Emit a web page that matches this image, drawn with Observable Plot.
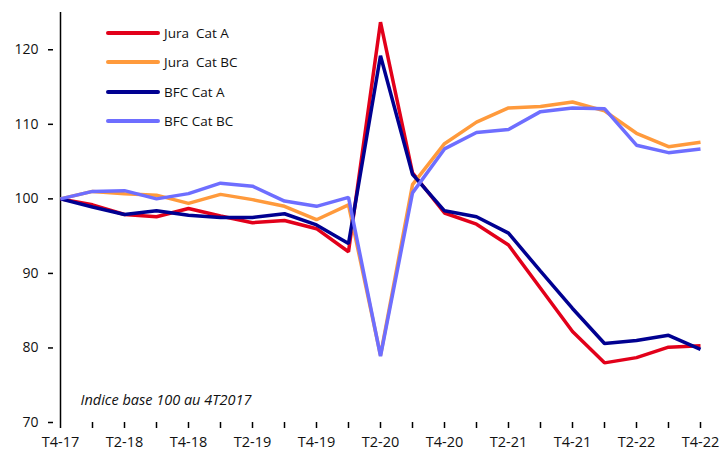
<!DOCTYPE html>
<html>
<head>
<meta charset="utf-8">
<script src="https://cdn.jsdelivr.net/npm/d3@7"></script>
<script src="https://cdn.jsdelivr.net/npm/@observablehq/plot@0.6"></script>
<style>
  html, body { margin: 0; padding: 0; background: #fff; }
  #wrap { position: relative; width: 728px; height: 454px; font-family: "Open Sans", sans-serif; }
  #legend { position: absolute; left: 106px; top: 18px; font-size: 13.5px; color: #111; }
  #legend .item { display: flex; align-items: center; height: 29.5px; }
  #legend .sw { width: 54px; height: 4px; border-radius: 2px; margin-right: 4px; }
</style>
</head>
<body>
<div id="wrap"><div id="legend"></div></div>
<script>
const quarters = ["T4-17","T1-18","T2-18","T3-18","T4-18","T1-19","T2-19","T3-19","T4-19","T1-20","T2-20","T3-20","T4-20","T1-21","T2-21","T3-21","T4-21","T1-22","T2-22","T3-22","T4-22"];
const juraA  = [100, 99.2, 97.9, 97.6, 98.7, 97.7, 96.8, 97.1, 96.0, 92.9, 123.7, 103.5, 98.1, 96.6, 93.8, 88.0, 82.2, 78.0, 78.7, 80.1, 80.3];
const juraBC = [100, 101.0, 100.7, 100.5, 99.4, 100.6, 99.9, 99.0, 97.2, 99.2, 79.0, 101.9, 107.4, 110.3, 112.2, 112.4, 113.0, 111.8, 108.8, 107.0, 107.6];
const bfcA   = [100, 98.9, 97.9, 98.4, 97.8, 97.5, 97.5, 98.0, 96.5, 94.0, 119.2, 103.3, 98.4, 97.6, 95.4, 90.3, 85.3, 80.6, 81.0, 81.7, 79.8];
const bfcBC  = [100, 101.0, 101.1, 100.0, 100.7, 102.1, 101.7, 99.7, 99.0, 100.2, 78.9, 100.8, 106.7, 108.9, 109.3, 111.7, 112.2, 112.1, 107.2, 106.2, 106.7];
const seriesNames = ["Jura  Cat A", "Jura  Cat BC", "BFC Cat A", "BFC Cat BC"];
const seriesValues = [juraA, juraBC, bfcA, bfcBC];
const colors = ["#e2001a", "#ff9a3c", "#000091", "#6e6eff"];
const yTicks = [70, 80, 90, 100, 110, 120];
const gridTicks = [80, 90, 100, 110, 120];
const note = "Indice base 100 au 4T2017";

const data = seriesNames.flatMap((s, k) => quarters.map((q, i) => ({series: s, q, v: seriesValues[k][i]})));

const chart = Plot.plot({
  width: 728,
  height: 454,
  marginLeft: 53,
  marginRight: 21,
  marginTop: 12,
  marginBottom: 32,
  style: {fontFamily: "'Open Sans', sans-serif", fontSize: "14px", color: "#111", background: "#fff"},
  x: {type: "point", domain: quarters, padding: 0},
  y: {domain: [70, 125]},
  color: {domain: seriesNames, range: colors},
  marks: [
    Plot.ruleY(gridTicks, {x1: quarters[0], x2: quarters[quarters.length - 1], stroke: "#c0c0c0", strokeWidth: 1.5}),
    Plot.axisY({ticks: yTicks, tickSize: 5, tickPadding: 10, label: null, stroke: "#000", strokeWidth: 1.5, fontSize: 14}),
    Plot.axisX({ticks: quarters, tickSize: 6, tickPadding: 8, label: null, stroke: "#000", strokeWidth: 1.5, fontSize: 14.5,
      tickFormat: d => quarters.indexOf(d) % 2 === 0 ? d : ""}),
    Plot.ruleX([quarters[0]], {y1: 70, y2: 125, stroke: "#000", strokeWidth: 1.5}),
    Plot.ruleY([70], {x1: quarters[0], x2: quarters[quarters.length - 1], stroke: "#000", strokeWidth: 1.5}),
    Plot.line(data, {x: "q", y: "v", z: "series", stroke: "series", strokeWidth: 3.5, strokeLinejoin: "miter", strokeLinecap: "butt"}),
    Plot.text([note], {frameAnchor: "bottom-left", dx: 27, dy: -18, textAnchor: "start", fontStyle: "italic", fontSize: 14.5, fill: "#111"})
  ]
});
document.getElementById("wrap").prepend(chart);

const legend = document.getElementById("legend");
seriesNames.forEach((s, k) => {
  const item = document.createElement("div");
  item.className = "item";
  const sw = document.createElement("div");
  sw.className = "sw";
  sw.style.background = colors[k];
  const t = document.createElement("span");
  t.textContent = s;
  t.style.whiteSpace = "pre";
  item.append(sw, t);
  legend.append(item);
});
</script>
</body>
</html>
